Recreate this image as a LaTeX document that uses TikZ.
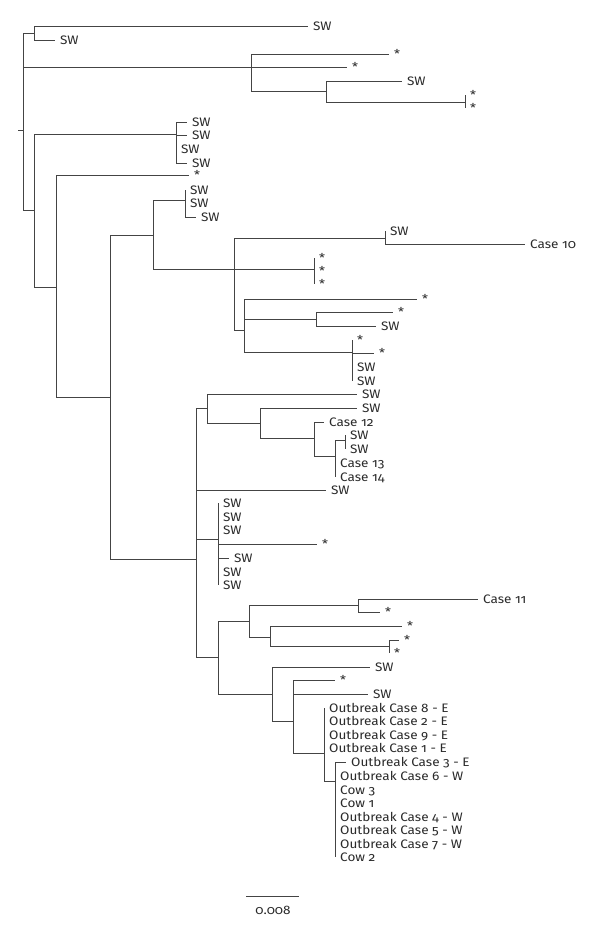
\documentclass[tikz,border=0pt]{standalone}
\usepackage{fontspec}
\setmainfont{Fira Sans}[Numbers=OldStyle,FakeStretch=1.1]
\definecolor{treeline}{HTML}{444444}
\definecolor{treetext}{HTML}{2A2A2A}
\newcommand\lf[4]{\coordinate (#1) at (#2,#3); \node[lab] (#1l) at (#1) {#4};}
\begin{document}
\begin{tikzpicture}[x=1pt,y=-1pt,
  br/.style={draw=treeline,line width=1pt},
  lab/.style={anchor=west,inner sep=0pt,xshift=5pt,text height=8.4pt,text depth=0pt,text=treetext,font=\fontsize{12.3}{13}\selectfont}]
\useasboundingbox[fill=white] (0,0) rectangle (597,930);
% internal nodes
\coordinate (R0) at (18,130);
\coordinate (R) at (23,130);
\coordinate (A) at (34,33);
\coordinate (F) at (251,67);
\coordinate (G) at (326,91);
\coordinate (H) at (465,102);
\coordinate (B) at (34,210);
\coordinate (I) at (176,134);
\coordinate (C) at (56,287);
\coordinate (E) at (110,397);
\coordinate (J) at (153,235);
\coordinate (K) at (185,200);
\coordinate (L) at (234,269);
\coordinate (M) at (385,238);
\coordinate (N) at (314,269);
\coordinate (O) at (244,330);
\coordinate (P) at (316,319);
\coordinate (Q) at (352,352);
\coordinate (D) at (196,559);
\coordinate (S) at (207,408);
\coordinate (T) at (260,423);
\coordinate (U) at (314,438);
\coordinate (V) at (335,456);
\coordinate (W) at (345,440);
\coordinate (X) at (218,539);
\coordinate (Y) at (218,657);
\coordinate (Z) at (249,621);
\coordinate (AA) at (358,605);
\coordinate (AB) at (270,637);
\coordinate (AC) at (389,646);
\coordinate (AD) at (272,694);
\coordinate (AE) at (293,721);
\coordinate (AF) at (324,753);
\coordinate (AG) at (335,781);
% leaves
\lf{a1}{308}{26}{SW}
\lf{a2}{55}{40}{SW}
\lf{f1}{389}{54}{*}
\lf{f2}{347}{67}{*}
\lf{g1}{402}{81}{SW}
\lf{h1}{465}{95}{*}
\lf{h2}{465}{108}{*}
\lf{i1}{187}{122}{SW}
\lf{i2}{187}{135}{SW}
\lf{i3}{176}{149}{SW}
\lf{i4}{187}{163}{SW}
\lf{c1}{189}{175}{*}
\lf{k1}{185}{190}{SW}
\lf{k2}{185}{203.5}{SW}
\lf{k3}{196}{217}{SW}
\lf{m1}{385}{231}{SW}
\lf{m2}{525}{244}{Case 10}
\lf{n1}{314}{258}{*}
\lf{n2}{314}{271}{*}
\lf{n3}{314}{284}{*}
\lf{o1}{417}{299}{*}
\lf{p1}{393}{312}{*}
\lf{p2}{376}{326}{SW}
\lf{q1}{352}{340}{*}
\lf{q2}{374}{353}{*}
\lf{q3}{352}{367}{SW}
\lf{q4}{352}{381}{SW}
\lf{s1}{357}{394}{SW}
\lf{t1}{357}{408}{SW}
\lf{u1}{324}{422}{Case 12}
\lf{w1}{345}{435}{SW}
\lf{w2}{345}{449}{SW}
\lf{v1}{335}{463}{Case 13}
\lf{v2}{335}{477}{Case 14}
\lf{d1}{326}{490}{SW}
\lf{x1}{218}{503}{SW}
\lf{x2}{218}{517}{SW}
\lf{x3}{218}{530}{SW}
\lf{x4}{317}{544}{*}
\lf{x5}{229}{558}{SW}
\lf{x6}{218}{572}{SW}
\lf{x7}{218}{585}{SW}
\lf{aa1}{478}{599}{Case 11}
\lf{aa2}{380}{612}{*}
\lf{ab1}{402}{626}{*}
\lf{ac1}{399}{640}{*}
\lf{ac2}{389}{653}{*}
\lf{ad1}{370}{667}{SW}
\lf{ae1}{335}{680}{*}
\lf{ae2}{368}{694}{SW}
\lf{af1}{324}{708}{Outbreak Case 8 - E}
\lf{af2}{324}{721}{Outbreak Case 2 - E}
\lf{af3}{324}{735}{Outbreak Case 9 - E}
\lf{af4}{324}{748}{Outbreak Case 1 - E}
\lf{ag1}{346}{762}{Outbreak Case 3 - E}
\lf{ag2}{335}{776}{Outbreak Case 6 - W}
\lf{ag3}{335}{790}{Cow 3}
\lf{ag4}{335}{803}{Cow 1}
\lf{ag5}{335}{817}{Outbreak Case 4 - W}
\lf{ag6}{335}{830}{Outbreak Case 5 - W}
\lf{ag7}{335}{844}{Outbreak Case 7 - W}
\lf{ag8}{335}{857}{Cow 2}
% branches
\draw[br] (R0) -- (R);
\foreach \p/\c in {R/A,R/F,R/B,A/a1,A/a2,F/f1,F/f2,F/G,G/g1,G/H,H/h1,H/h2,
  B/I,I/i1,I/i2,I/i3,I/i4,B/C,C/c1,C/E,E/J,J/K,K/k1,K/k2,K/k3,J/L,L/M,M/m1,M/m2,
  L/N,N/n1,N/n2,N/n3,L/O,O/o1,O/P,P/p1,P/p2,O/Q,Q/q1,Q/q2,Q/q3,Q/q4,
  E/D,D/S,S/s1,S/T,T/t1,T/U,U/u1,U/V,V/W,W/w1,W/w2,V/v1,V/v2,D/d1,
  D/X,X/x1,X/x2,X/x3,X/x4,X/x5,X/x6,X/x7,D/Y,Y/Z,Z/AA,AA/aa1,AA/aa2,Z/AB,AB/ab1,AB/AC,AC/ac1,AC/ac2,
  Y/AD,AD/ad1,AD/AE,AE/ae1,AE/ae2,AE/AF,AF/af1,AF/af2,AF/af3,AF/af4,AF/AG,
  AG/ag1,AG/ag2,AG/ag3,AG/ag4,AG/ag5,AG/ag6,AG/ag7,AG/ag8}
  {\draw[br] (\p) |- (\c);}
% scale bar
\coordinate (sb1) at (246,896);
\coordinate (sb2) at (299,896);
\draw[br] (sb1) -- (sb2);
\node[text=treetext,font=\fontsize{12.3}{13}\selectfont,inner sep=0pt] (sbl) at (273,910) {0.008};
\end{tikzpicture}
\end{document}
